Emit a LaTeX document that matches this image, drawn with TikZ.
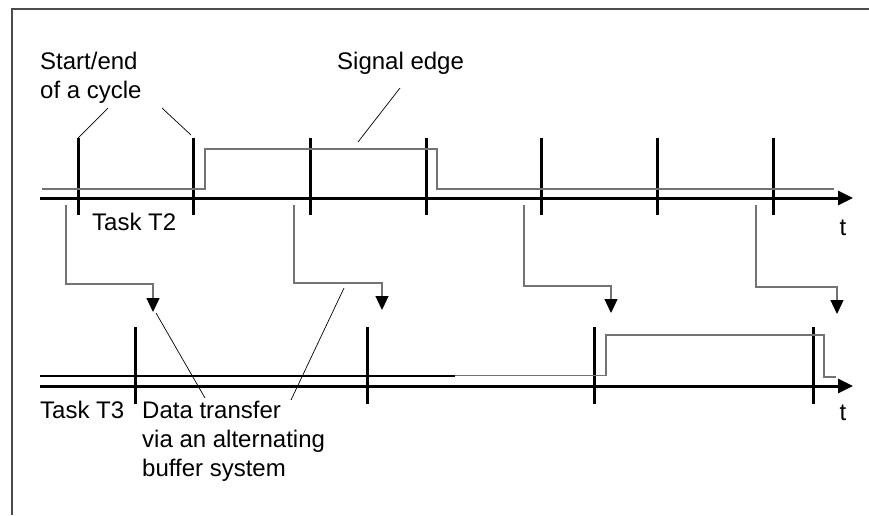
\documentclass[tikz,border=0pt]{standalone}
\usepackage{fontspec}
\setmainfont{Liberation Sans}
\usetikzlibrary{arrows.meta,positioning}
\tikzset{
  axisline/.style={line width=3pt,-{Triangle[length=15pt,width=14pt]}},
  cyclemark/.style={line width=3pt},
  signalline/.style={draw=black!55,line width=1.3pt},
  transfer/.style={draw=black!55,line width=1.3pt,-{Triangle[length=14pt,width=13pt,color=black]}},
  leader/.style={line width=0.7pt},
  lbl/.style={font=\fontsize{24}{29}\selectfont,align=left,inner sep=0pt}
}
\begin{document}
\begin{tikzpicture}[x=1pt,y=-1pt]
        \useasboundingbox (0,0) rectangle (869,515);

        % frame
        \draw[draw=black!70,line width=1.3pt] (12,515) -- (12,9) -- (869,9);

        % Task T2 axis
        \draw[axisline] (40,198) -- (853,198);
        \foreach \x [count=\i] in {78,193,310,426,541,657,773}
            \draw[cyclemark] (\x,215) -- (\x,138) coordinate (ta\i);
        \draw[signalline] (42,189) -- (205,189) -- (205,149) -- (437,149) -- (437,189) -- (834,189);

        % Task T3 axis
        \draw[axisline] (40,386) -- (853,386);
        \foreach \x [count=\i] in {135,367,594,813}
            \draw[cyclemark] (\x,404) -- (\x,327) coordinate (tb\i);
        \draw[line width=1.1pt] (40,376) -- (455,376);
        \draw[signalline] (455,375.5) -- (606,375.5) -- (606,335) -- (824,335) -- (824,377) -- (836,377);

        % data transfer between the tasks
        \foreach \xa/\xb/\ym/\yt in {66/153/284/312, 294/382/283/310, 524/611/286/313, 756/837/287/314}
            \draw[transfer] (\xa,205) -- (\xa,\ym) -| (\xb,\yt);

        % labels
        \node[lbl,anchor=north west] (cycle) at (40,52) {Start/end\\of a cycle};
        \node[lbl,anchor=north west] (edge) at (337,52) {Signal edge};
        \node[lbl,anchor=north west] (t2) at (92,213) {Task T2};
        \node[lbl,anchor=north west] (t3) at (40,401) {Task T3};
        \node[lbl,anchor=north west] (buffer) at (142,401) {Data transfer\\via an alternating\\buffer system};
        \node[lbl,anchor=north] (ta) at (843,220) {t};
        \node[lbl,anchor=north] (tb) at (843,405) {t};

        % leader lines
        \coordinate (c1) at (108,108);
        \coordinate (c2) at (162,108);
        \coordinate (c3) at (191,135);
        \coordinate (e1) at (400,88);
        \coordinate (e2) at (358,142);
        \coordinate (b1) at (205,398);
        \coordinate (b2) at (156,313);
        \coordinate (b3) at (291,400);
        \coordinate (b4) at (344,288);
        \draw[leader] (c1) -- (ta1);
        \draw[leader] (c2) -- (c3);
        \draw[leader] (e1) -- (e2);
        \draw[leader] (b1) -- (b2);
        \draw[leader] (b3) -- (b4);

\end{tikzpicture}
\end{document}
